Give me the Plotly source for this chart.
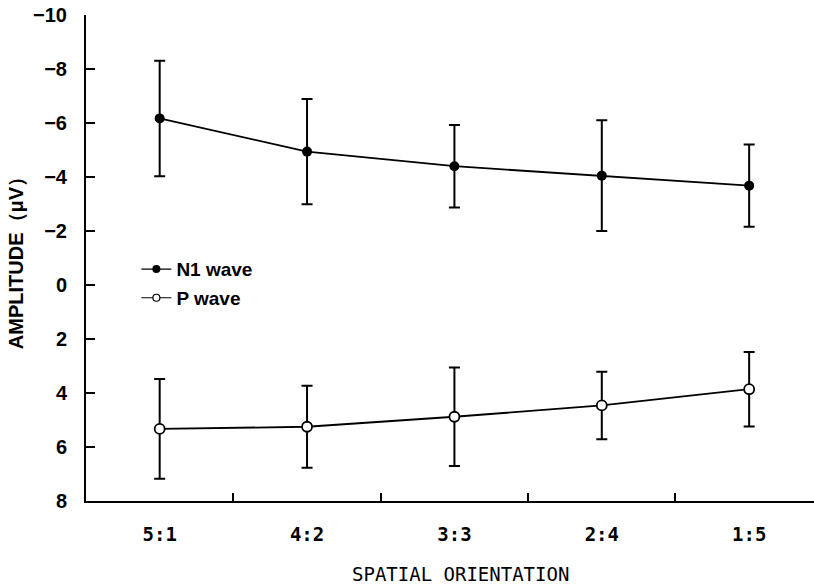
import plotly.graph_objects as go

categories = ["5:1", "4:2", "3:3", "2:4", "1:5"]
n1_mean = [-6.17, -4.94, -4.40, -4.05, -3.68]
n1_err = [2.14, 1.95, 1.53, 2.05, 1.52]
p_mean = [5.33, 5.25, 4.88, 4.46, 3.86]
p_err = [1.85, 1.52, 1.82, 1.25, 1.38]
y_ticks = [-10, -8, -6, -4, -2, 0, 2, 4, 6, 8]

fig = go.Figure()

fig.add_trace(go.Scatter(
    x=categories, y=n1_mean, mode="lines+markers", showlegend=False,
    line=dict(color="black", width=1.8),
    marker=dict(size=10, color="black", symbol="circle"),
    error_y=dict(type="data", array=n1_err, visible=True, color="black", thickness=2, width=5.5),
))
fig.add_trace(go.Scatter(
    x=categories, y=p_mean, mode="lines+markers", showlegend=False,
    line=dict(color="black", width=1.8),
    marker=dict(size=10, color="white", symbol="circle", line=dict(color="black", width=1.8)),
    error_y=dict(type="data", array=p_err, visible=True, color="black", thickness=2, width=5.5),
))
# legend entries
fig.add_trace(go.Scatter(
    x=[None], y=[None], mode="lines+markers", name="N1 wave", legendgroup="a",
    line=dict(color="black", width=1.2),
    marker=dict(size=8, color="black"),
))
fig.add_trace(go.Scatter(
    x=[None], y=[None], mode="lines+markers", name="P wave", legendgroup="b",
    line=dict(color="black", width=1.2),
    marker=dict(size=7, color="white", line=dict(color="black", width=1.2)),
))

fig.update_layout(
    width=814, height=587,
    margin=dict(l=86, r=0, t=15, b=86),
    paper_bgcolor="white", plot_bgcolor="white",
    font=dict(family="Liberation Sans, Arial, sans-serif", color="black"),
    legend=dict(
        x=0.0692, y=0.516, xanchor="left", yanchor="top",
        bgcolor="rgba(0,0,0,0)", borderwidth=0,
        font=dict(size=19, weight="bold", family="Liberation Sans, Arial, sans-serif"),
        tracegroupgap=1,
    ),
    xaxis=dict(
        type="category", categoryorder="array", categoryarray=categories,
        range=[-0.5, 4.44], automargin=False,
        showline=True, linecolor="black", linewidth=2,
        ticks="inside", ticklen=8, tickwidth=1.5, tickcolor="black",
        tickson="boundaries", ticklabelstandoff=15,
        showgrid=False, zeroline=False,
        tickfont=dict(family="DejaVu Sans Mono, monospace", size=19, weight="bold"),
    ),
    yaxis=dict(
        range=[8, -10], automargin=False,
        tickvals=y_ticks,
        showline=True, linecolor="black", linewidth=2,
        ticks="inside", ticklen=9, tickwidth=1.5, tickcolor="black",
        ticklabelstandoff=13, ticklabeloverflow="allow",
        showgrid=False, zeroline=False,
        tickfont=dict(size=20, weight="bold"),
        title=dict(text="AMPLITUDE（μV）", font=dict(size=20, weight="bold"), standoff=4),
    ),
    annotations=[dict(
        text="SPATIAL ORIENTATION", xref="paper", yref="paper",
        x=0.515, y=-0.15, xanchor="center", yanchor="middle", showarrow=False,
        font=dict(family="DejaVu Sans Mono, monospace", size=19),
    )],
)

fig.write_html(
    "out.html",
    config={"displayModeBar": False},
    post_script="document.body.style.margin='0';document.body.style.overflow='hidden';",
)
